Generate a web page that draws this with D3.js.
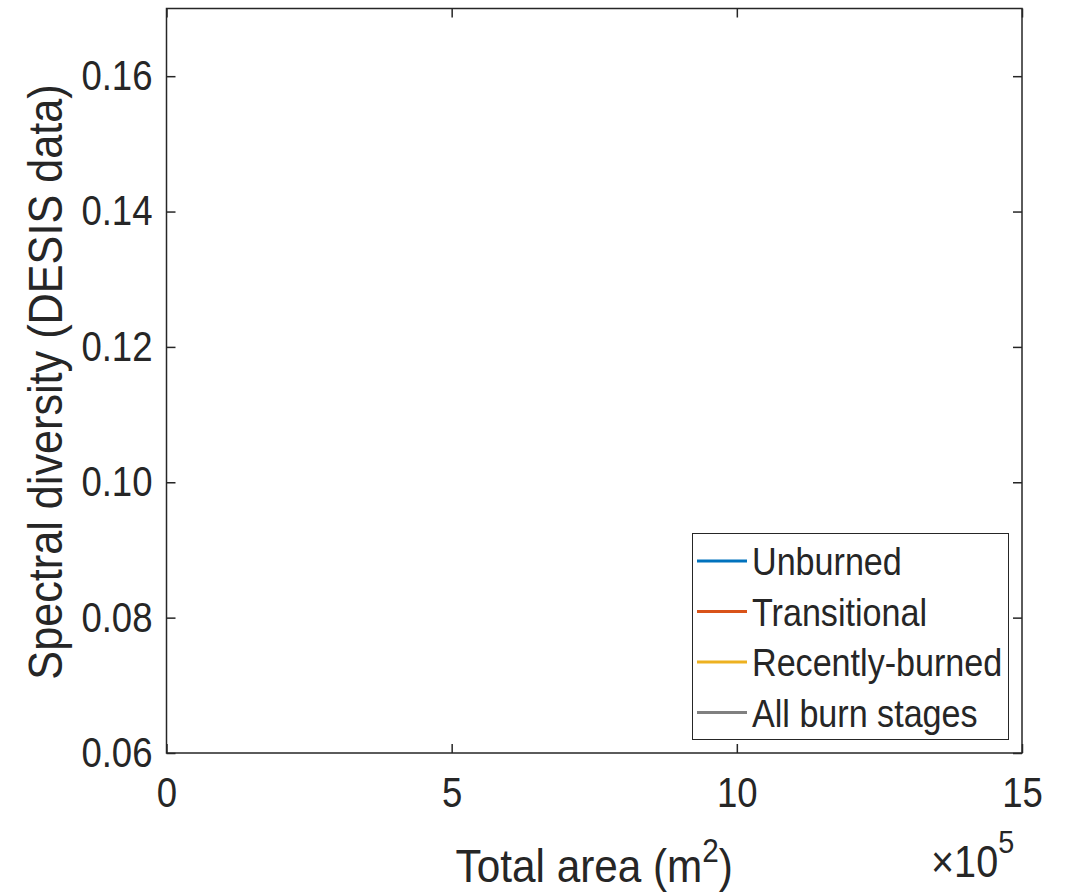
<!DOCTYPE html>
<html>
<head>
<meta charset="utf-8">
<script src="https://cdn.jsdelivr.net/npm/d3@7"></script>
<style>
  body { margin: 0; background: #fff; }
  text { font-family: "Liberation Sans", Arial, Helvetica, sans-serif; fill: #262626; }
</style>
</head>
<body>
<div id="chart"></div>
<script>
// legend entries (no points are drawn in the figure itself)
var seriesNames = ["Unburned", "Transitional", "Recently-burned", "All burn stages"];
var seriesColors = ["#0072BD", "#D95319", "#EDB120", "#808080"];
var unburned = [];
var transitional = [];
var recentlyBurned = [];
var allStages = [];

var xTicks = [0, 5e5, 10e5, 15e5];
var yTicks = [0.06, 0.08, 0.10, 0.12, 0.14, 0.16];
var xDomain = [0, 15e5];
var yDomain = [0.06, 0.17];

var width = 1071, height = 895;
var margin = {left: 166.5, top: 8.5, right: 1071 - 1022, bottom: 895 - 753};

var svg = d3.select("#chart").append("svg")
	.attr("width", width).attr("height", height);

var x = d3.scaleLinear().domain(xDomain).range([margin.left, width - margin.right]);
var y = d3.scaleLinear().domain(yDomain).range([height - margin.bottom, margin.top]);

var tickLen = 9;
var axisColor = "#262626";

// the figure font is narrower than Liberation Sans, squeeze it horizontally
function squeeze(sel, s){
	sel.each(function(){
		var t = d3.select(this);
		var xv = +t.attr("x") || 0;
		t.attr("x", xv / s).attr("transform", "scale(" + s + ",1)");
	});
}

// box
svg.append("rect")
	.attr("x", x(xDomain[0])).attr("y", y(yDomain[1]))
	.attr("width", x(xDomain[1]) - x(xDomain[0]))
	.attr("height", y(yDomain[0]) - y(yDomain[1]))
	.attr("fill", "none").attr("stroke", axisColor).attr("stroke-width", 1.5);

// bottom axis, ticks inside
var xAxis = d3.axisBottom(x).tickValues(xTicks).tickSize(-tickLen).tickPadding(24)
	.tickFormat(function(d){ return d / 1e5; });
var gx = svg.append("g").attr("transform", "translate(0," + y(yDomain[0]) + ")").call(xAxis);
gx.select(".domain").remove();
gx.selectAll("line").attr("stroke", axisColor).attr("stroke-width", 1.5);
gx.selectAll("text").style("font-size", "42px").attr("fill", axisColor).call(squeeze, 0.87);

// top ticks
svg.append("g").attr("transform", "translate(0," + y(yDomain[1]) + ")")
	.call(d3.axisTop(x).tickValues(xTicks).tickSize(-tickLen).tickFormat(""))
	.call(function(g){ g.select(".domain").remove(); g.selectAll("line").attr("stroke", axisColor).attr("stroke-width", 1.5); });

// left axis
var yAxis = d3.axisLeft(y).tickValues(yTicks).tickSize(-tickLen).tickPadding(14)
	.tickFormat(d3.format(".2f"));
var gy = svg.append("g").attr("transform", "translate(" + x(xDomain[0]) + ",0)").call(yAxis);
gy.select(".domain").remove();
gy.selectAll("line").attr("stroke", axisColor).attr("stroke-width", 1.5);
gy.selectAll("text").style("font-size", "42px").attr("fill", axisColor).call(squeeze, 0.87);

// right ticks
svg.append("g").attr("transform", "translate(" + x(xDomain[1]) + ",0)")
	.call(d3.axisRight(y).tickValues(yTicks).tickSize(-tickLen).tickFormat(""))
	.call(function(g){ g.select(".domain").remove(); g.selectAll("line").attr("stroke", axisColor).attr("stroke-width", 1.5); });

// series (empty in the figure)
var line = d3.line().x(function(d){ return x(d[0]); }).y(function(d){ return y(d[1]); });
[unburned, transitional, recentlyBurned, allStages].forEach(function(s, i){
	svg.append("path").datum(s).attr("d", line).attr("fill", "none")
		.attr("stroke", seriesColors[i]).attr("stroke-width", 3);
});

// axis labels
svg.append("g")
	.attr("transform", "translate(" + ((x(xDomain[0]) + x(xDomain[1])) / 2) + ",882) scale(0.9,1)")
	.append("text")
	.attr("text-anchor", "middle").style("font-size", "47px")
	.html('Total area (m<tspan dy="-20" style="font-size:33px">2</tspan><tspan dy="20">)</tspan>');

svg.append("g")
	.attr("transform", "translate(62,382) rotate(-90) scale(0.9,1)")
	.append("text")
	.attr("text-anchor", "middle").style("font-size", "48px")
	.text("Spectral diversity (DESIS data)");

// exponent
svg.append("g")
	.attr("transform", "translate(931,877) scale(0.9,1)")
	.append("text")
	.style("font-size", "44px")
	.html('\u00d710<tspan dy="-24" style="font-size:32px">5</tspan>');

// legend
var lg = svg.append("g");
lg.append("rect").attr("x", 692.5).attr("y", 533.5).attr("width", 316).attr("height", 206)
	.attr("fill", "#fff").attr("stroke", axisColor).attr("stroke-width", 1);
seriesNames.forEach(function(name, i){
	var yy = 561 + i * 50.5;
	lg.append("line").attr("x1", 697).attr("x2", 747).attr("y1", yy).attr("y2", yy)
		.attr("stroke", seriesColors[i]).attr("stroke-width", 3);
	lg.append("g").attr("transform", "translate(752," + yy + ") scale(0.875,1)")
		.append("text").attr("dy", "0.36em")
		.style("font-size", "39px").attr("fill", "#000").text(name);
});
</script>
</body>
</html>
